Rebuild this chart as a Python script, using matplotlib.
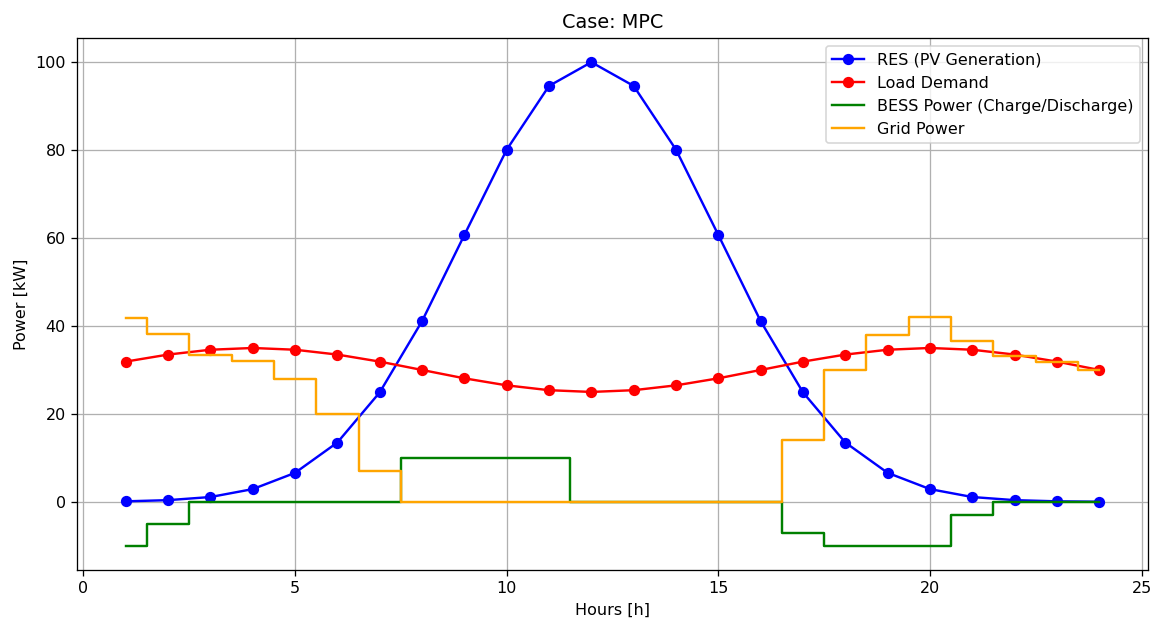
import matplotlib
matplotlib.use("Agg")
import matplotlib.pyplot as plt

hours = list(range(1, 25))
pv = [0.12, 0.39, 1.1, 2.9, 6.6, 13.5, 24.9, 41.1, 60.7, 80.1, 94.6, 100.0,
      94.6, 80.1, 60.7, 41.1, 24.9, 13.5, 6.6, 2.9, 1.1, 0.39, 0.12, 0.03]
load = [31.9, 33.5, 34.6, 35.0, 34.6, 33.5, 31.9, 30.0, 28.1, 26.5, 25.4, 25.0,
        25.4, 26.5, 28.1, 30.0, 31.9, 33.5, 34.6, 35.0, 34.6, 33.5, 31.9, 30.0]
bess = [-10, -5, 0, 0, 0, 0, 0, 10, 10, 10, 10, 0,
        0, 0, 0, 0, -7, -10, -10, -10, -3, 0, 0, 0]
grid = [41.9, 38.1, 33.5, 32.1, 28.0, 20.0, 7.0, 0, 0, 0, 0, 0,
        0, 0, 0, 0, 14.0, 30.0, 38.0, 42.1, 36.5, 33.1, 31.8, 30.0]

dpi = 115.7
fig, ax = plt.subplots(figsize=(1157 / dpi, 621 / dpi), dpi=dpi)
ax.plot(hours, pv, "o-", color="blue", label="RES (PV Generation)")
ax.plot(hours, load, "o-", color="red", label="Load Demand")
ax.step(hours, bess, where="mid", color="green", label="BESS Power (Charge/Discharge)")
ax.step(hours, grid, where="mid", color="orange", label="Grid Power")
ax.set_title("Case: MPC")
ax.set_xlabel("Hours [h]")
ax.set_ylabel("Power [kW]")
ax.grid(True)
ax.legend(loc="upper right")
fig.subplots_adjust(left=0.0666, right=0.9922, top=0.9388, bottom=0.0821)
fig.savefig("out.png", dpi=dpi)
